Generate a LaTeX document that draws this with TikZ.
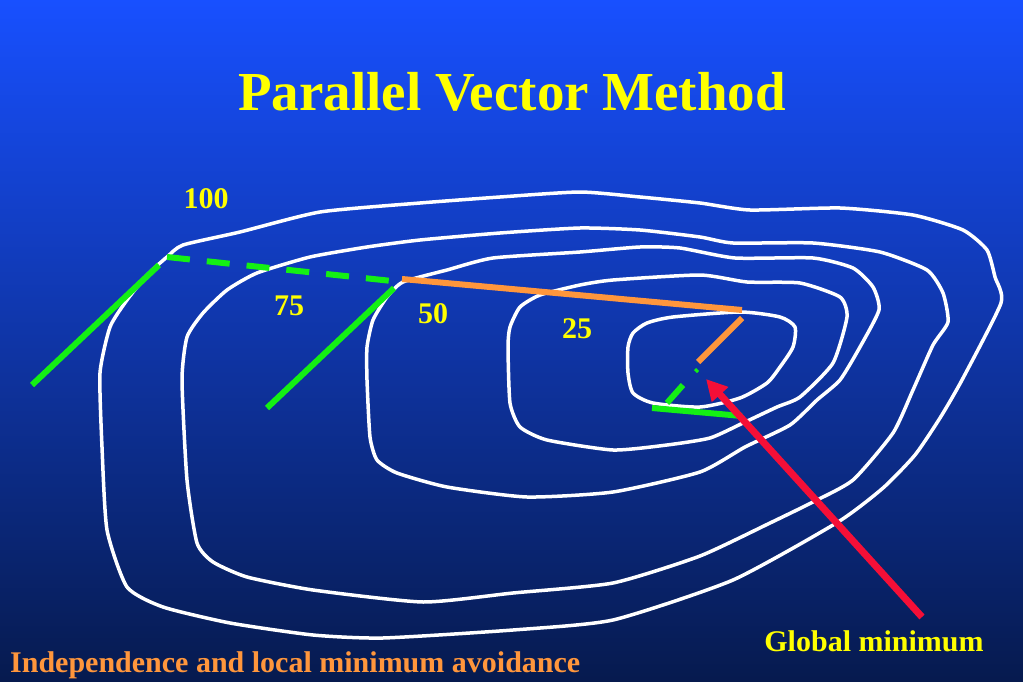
\documentclass[tikz,border=0pt]{standalone}
\usepackage{fontspec}
\setmainfont{Liberation Serif}
\usetikzlibrary{arrows.meta}
\definecolor{bgtop}{RGB}{24,80,255}
\definecolor{bgbot}{RGB}{6,26,78}
\definecolor{ttl}{RGB}{255,255,0}
\definecolor{org}{RGB}{255,150,60}
\definecolor{grn}{RGB}{20,240,20}
\definecolor{redarrow}{RGB}{245,15,55}
\tikzset{
  contour/.style={draw=white, line width=3.5pt, line join=round},
  gline/.style={draw=grn, line width=6pt},
  oline/.style={draw=org, line width=6pt},
  lbl/.style={text=ttl, font=\bfseries\fontsize{30}{30}\selectfont, anchor=base, inner sep=0pt},
}
\begin{document}
\begin{tikzpicture}[x=1pt,y=-1pt]
\useasboundingbox (0,0) rectangle (1023,682);
\shade[top color=bgtop, bottom color=bgbot] (0,0) rectangle (1023,682);

% contours
\draw[contour] plot[smooth cycle, tension=0.35] coordinates {
 (183,245) (240,232) (320,212) (420,203) (500,197) (580,192) (640,197) (700,203) (750,210)
 (840,208) (913,215) (963,230) (987,250) (995,277) (1001,303) (962,380) (940,418) (915,455)
 (883,488) (838,522) (733,580) (613,620) (513,630) (383,638) (313,635) (230,623) (163,607)
 (127,587) (107,530) (102,447) (100,373) (110,327) (127,300) (147,275) (167,257)};
\draw[contour] plot[smooth cycle, tension=0.35] coordinates {
 (257,273) (310,257) (367,247) (420,240) (500,233) (580,228) (640,230) (700,237) (733,243)
 (813,243) (880,252) (927,270) (943,293) (948,322) (933,345) (913,390) (893,433) (853,480)
 (813,502) (770,523) (700,556) (613,583) (513,593) (423,602) (313,590) (247,577) (213,562)
 (197,543) (187,480) (182,380) (187,337) (203,313) (227,290)};
\draw[contour] plot[smooth cycle, tension=0.35] coordinates {
 (403,282) (447,270) (493,258) (580,252) (640,247) (680,248) (735,258) (813,258) (853,268)
 (873,287) (879,310) (860,347) (840,380) (817,400) (790,425) (745,447) (700,472) (613,492)
 (527,497) (447,487) (397,473) (377,460) (370,437) (367,380) (367,347) (373,320) (387,297)};
\draw[contour] plot[smooth cycle, tension=0.35] coordinates {
 (508,347) (510,327) (520,307) (540,295) (580,285) (613,280) (700,275) (747,282) (800,283)
 (840,297) (847,317) (833,363) (800,397) (777,407) (743,423) (710,438) (667,445) (613,450)
 (547,440) (520,427) (510,403)};
\draw[contour] plot[smooth cycle, tension=0.4] coordinates {
 (647,323) (673,317) (740,312) (780,317) (795,327) (793,347) (780,367) (767,383) (740,398)
 (700,407) (653,403) (633,393) (628,373) (628,347) (633,333)};

% endpoints
\coordinate (g1a) at (32,385);
\coordinate (g1b) at (159,265);
\coordinate (da) at (167,257);
\coordinate (db) at (392,281);
\coordinate (g2a) at (267,408);
\coordinate (g2b) at (394,288);
\coordinate (o1a) at (402,279);
\coordinate (o1b) at (742,310);
\coordinate (o2a) at (742,318);
\coordinate (o2b) at (698,362);
\coordinate (s1a) at (695,369);
\coordinate (s1b) at (698,372);
\coordinate (s2a) at (683,385);
\coordinate (s2b) at (667,403);
\coordinate (g3a) at (652,408);
\coordinate (g3b) at (742,416);
\coordinate (ra) at (922,617);
\coordinate (rb) at (706,379);

\draw[gline] (g1a) -- (g1b);
\draw[gline, dash pattern=on 23pt off 17pt] (da) -- (db);
\draw[gline] (g2a) -- (g2b);
\draw[oline] (o1a) -- (o1b);
\draw[oline] (o2a) -- (o2b);
\draw[draw=grn, line width=3pt] (s1a) -- (s1b);
\draw[gline] (s2a) -- (s2b);
\draw[gline] (g3a) -- (g3b);
\draw[draw=redarrow, line width=7pt, -{Triangle[length=21pt,width=21pt]}] (ra) -- (rb);

% labels
\node[text=ttl, font=\bfseries\fontsize{55}{55}\selectfont, anchor=base, inner sep=0pt] (title) at (512,111) {Parallel Vector Method};
\node[lbl] (l100) at (206,208) {100};
\node[lbl] (l75) at (289,315) {75};
\node[lbl] (l50) at (433,323) {50};
\node[lbl] (l25) at (577,338) {25};
\node[text=ttl, font=\bfseries\fontsize{30}{30}\selectfont, anchor=base, inner sep=0pt] (glob) at (874,651) {Global minimum};
\node[text=org, font=\bfseries\fontsize{30}{30}\selectfont, anchor=base west, inner sep=0pt] (indep) at (10,672) {Independence and local minimum avoidance};
\end{tikzpicture}
\end{document}
